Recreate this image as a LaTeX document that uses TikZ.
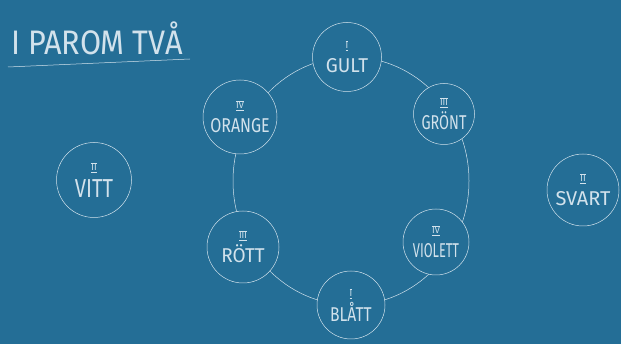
\documentclass[tikz,border=0pt]{standalone}
\usepackage{fontspec}
\setmainfont{Fira Sans}
\usepackage{graphicx}
\definecolor{tavla}{RGB}{36,110,150}
\definecolor{krita}{RGB}{210,226,236}
% romersk siffra med streck over och under
\newcommand\tal[1]{{\fontsize{9}{10}\selectfont$\overline{\underline{\mbox{#1}}}$}}
\newcommand\ord[2][1]{\scalebox{#1}[1]{#2}}

\begin{document}
\begin{tikzpicture}[x=1pt, y=-1pt, line width=0.5pt,
  farg/.style={circle, draw=krita, fill=tavla, text=krita, inner sep=0pt,
    align=center, font=\fontsize{20}{21}\selectfont}]
\fill[tavla] (0,0) rectangle (621,344);
\useasboundingbox (0,0) rectangle (621,344);
% rubrik
\node[text=krita, font=\fontsize{34}{36}\selectfont] (rubrik) at (97,38) {\ord[0.9]{I PAROM TVÅ}};
\coordinate (streck1) at (8,67);
\coordinate (streck2) at (190,59);
\draw[krita] (streck1) -- (streck2);
% ringen
\draw[krita] (351,181) ellipse [x radius=118, y radius=124];
% fargerna i ringen
\node[farg, minimum size=69pt] (gult) at (347,57) {\tal{I}\\[3pt]\ord[0.95]{GULT}};
\node[farg, minimum size=61pt] (gront) at (444,114) {\tal{III}\\[3pt]\ord[0.72]{GRÖNT}};
\node[farg, minimum size=66pt] (violett) at (436,242) {\tal{IV}\\[3pt]\ord[0.64]{VIOLETT}};
\node[farg, minimum size=68pt] (blatt) at (351,305) {\tal{I}\\[3pt]\ord[0.78]{BLÅTT}};
\node[farg, minimum size=72pt] (rott) at (243,247) {\tal{III}\\[3pt]\ord[0.95]{RÖTT}};
\node[farg, minimum size=74pt] (orange) at (240,117) {\tal{IV}\\[3pt]\ord[0.8]{ORANGE}};
% fargerna utanfor
\node[farg, minimum size=75pt, font=\fontsize{26}{27}\selectfont] (vitt) at (94,180) {\tal{II}\\[0pt]\ord[0.78]{VITT}};
\node[farg, minimum size=72pt] (svart) at (583,190) {\tal{II}\\[3pt]\ord[1]{SVART}};
\end{tikzpicture}
\end{document}
